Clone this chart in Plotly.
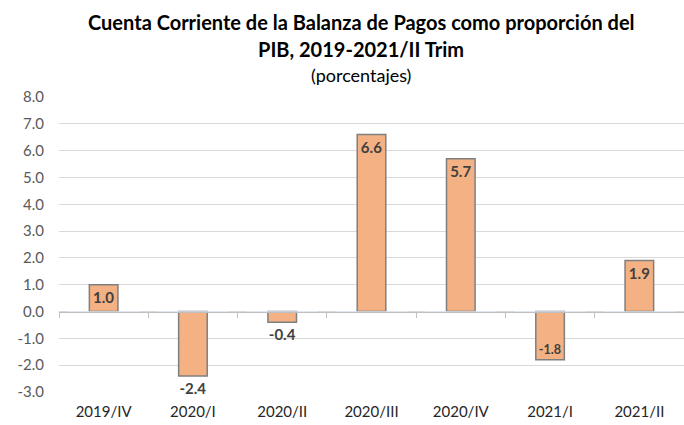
import plotly.graph_objects as go

categories = ["2019/IV", "2020/I", "2020/II", "2020/III", "2020/IV", "2021/I", "2021/II"]
values = [1.0, -2.4, -0.4, 6.6, 5.7, -1.8, 1.9]
label_pos = ["inside", "outside", "outside", "inside", "inside", "inside", "inside"]
y_ticks = [8, 7, 6, 5, 4, 3, 2, 1, 0, -1, -2, -3]

YMIN, YMAX = -3, 8
W, H = 684, 425
MT, MB, ML, MR = 97, 33, 59, 0

FONT = "Lato"

fig = go.Figure()
fig.add_trace(go.Bar(
    x=categories, y=values,
    marker=dict(color="#F4B183", line=dict(color="#7F7F7F", width=1.5)),
    width=0.32,
    text=[f"{v:.1f}" for v in values],
    texttemplate="<b>%{text}</b>",
    textposition=label_pos,
    insidetextanchor="end",
    textangle=0,
    textfont=dict(family=FONT, size=15, color="#404040"),
    cliponaxis=False,
    hoverinfo="skip",
))

# transparent trace on a second x axis to draw the zero line with boundary tick marks
fig.add_trace(go.Bar(x=categories, y=[0]*len(categories), xaxis="x2", showlegend=False,
                     hoverinfo="skip", marker=dict(color="rgba(0,0,0,0)")))

plot_h = H - MT - MB
pw = W - ML - MR
zero_pos = (0 - YMIN) / (YMAX - YMIN)

def px_x(x):
    return (x - ML) / pw

def px_y(y_from_top):
    return (H - y_from_top - MB) / plot_h

fig.update_layout(
    width=W, height=H,
    margin=dict(t=MT, b=MB, l=ML, r=MR, pad=0, autoexpand=False),
    paper_bgcolor="white", plot_bgcolor="white",
    showlegend=False,
    barmode="overlay",
    uniformtext=dict(minsize=15, mode="show"),
    font=dict(family=FONT, color="#595959"),
    xaxis=dict(
        type="category", categoryorder="array", categoryarray=categories,
        range=[-0.5, len(categories) - 0.5],
        showgrid=False, showline=False, ticks="",
        tickfont=dict(family=FONT, size=15, color="#262626"),
        ticklabelstandoff=9,
        fixedrange=True, automargin=False,
    ),
    xaxis2=dict(
        type="category", categoryorder="array", categoryarray=categories,
        range=[-0.5, len(categories) - 0.5],
        overlaying="x", anchor="free", position=zero_pos,
        showticklabels=False, showgrid=False, automargin=False,
        showline=True, linecolor="#BFBFBF", linewidth=1,
        ticks="outside", tickson="boundaries", ticklen=5, tickcolor="#BFBFBF",
    ),
    yaxis=dict(
        range=[YMIN, YMAX], domain=[0, 1],
        tickvals=y_ticks, ticktext=[f"{t:.1f}" for t in y_ticks],
        showgrid=True, gridcolor="#D9D9D9", gridwidth=1,
        zeroline=False, showline=False, automargin=False,
        tickfont=dict(family=FONT, size=15, color="#595959"),
        ticklabelstandoff=14,
    ),
    annotations=[
        dict(text="<b>Cuenta Corriente de la Balanza de Pagos como proporción del</b>",
             x=px_x(361), y=px_y(22), font=dict(family=FONT, size=20, color="#000000")),
        dict(text="<b>PIB, 2019-2021/II Trim</b>",
             x=px_x(361), y=px_y(49), font=dict(family=FONT, size=20, color="#000000")),
        dict(text="(porcentajes)",
             x=px_x(361), y=px_y(75), font=dict(family=FONT, size=18, color="#000000")),
    ],
)
for a in fig.layout.annotations:
    a.xref = "paper"
    a.yref = "paper"
    a.showarrow = False
    a.xanchor = "center"
    a.yanchor = "middle"

fig.write_html("out.html", config={"displayModeBar": False},
               post_script="document.body.style.margin='0';")
